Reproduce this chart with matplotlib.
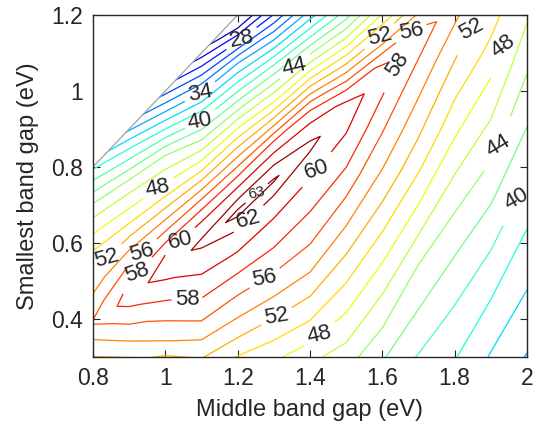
import numpy as np
import matplotlib
matplotlib.use("Agg")
import matplotlib.pyplot as plt
from matplotlib.colors import Normalize

plt.rcParams['font.family'] = ['Liberation Sans', 'DejaVu Sans']

# middle band gap columns (eV)
middle_gap = [0.8, 0.9, 1.0, 1.1, 1.2, 1.3, 1.4, 1.5, 1.6, 1.7, 1.8, 1.9, 2.0]
# smallest gap where the efficiency ridge sits, for each column (eV)
ridge_gap = [0.39, 0.455, 0.532, 0.60, 0.68, 0.765, 0.855, 0.945, 1.04,
             1.135, 1.23, 1.32, 1.41]
# sample rows: smallest gap offset from the ridge (eV)
offset = [-1.2, -0.8, -0.6, -0.45, -0.3, -0.2, -0.1, -0.04, 0.0, 0.04, 0.1,
          0.2, 0.3, 0.4, 0.5, 0.65, 0.9]

# efficiency (%), one row per offset, one value per column
efficiency = [
    [-12, -5, 0, 5, 8, 20, 24, 29, 31, 33, 34.5, 33.2, 32.8],
    [10, 18, 21, 27, 29, 36, 38.5, 41, 41, 40.5, 39.9, 39, 37.6],
    [22, 29, 32, 37.5, 40, 43.5, 45.2, 46.2, 45.4, 43.8, 43, 42.3, 40.6],
    [31, 37, 40, 45, 47, 49, 50.3, 50, 49, 47.6, 46, 45, 42.8],
    [40, 45, 48, 52.2, 53.2, 54.2, 55, 54, 52.8, 51.2, 49.1, 47.7, 44.9],
    [46, 50, 53.6, 56.2, 56.6, 57.4, 57.4, 56.6, 55.0, 53.1, 51.0, 49.7, 46.5],
    [51.5, 54.6, 57.4, 59.5, 60.1, 60.0, 59.6, 59.2, 57.0, 55.0, 53.0, 51.1, 49.2],
    [54.2, 57.3, 59.6, 61.2, 62.2, 62.0, 61.3, 60.3, 58.3, 56.2, 54.3, 52.4, 51.0],
    [56.2, 58.9, 61.0, 62.4, 63.3, 63.1, 62.4, 61.0, 59.0, 57.0, 55.0, 53.5, 52.0],
    [55.1, 58.1, 59.9, 61.0, 61.8, 62.0, 61.2, 59.5, 57.6, 55.8, 54.0, 52.5, 51.0],
    [53.3, 55.5, 55.9, 57.2, 57.7, 58.3, 57.6, 54.3, 52.6, 52.2, 51.0, 50.0, 49.0],
    [49.6, 49.8, 49.4, 49.2, 49.8, 48.5, 47.8, 45.5, 45.2, 44.0, 44.0, 44.0, 44.0],
    [44.9, 44.8, 43.9, 41.9, 41.5, 40.3, 38.8, 37.5, 37.5, 37.0, 37.0, 37.0, 37.0],
    [38.3, 37.5, 35.2, 33.6, 33.4, 31.2, 30.5, 29.5, 30.0, 29.0, 29.0, 29.0, 29.0],
    [30.5, 29, 26.5, 25, 22.4, 22.5, 22.0, 22.0, 23.0, 21.0, 21.0, 21.0, 21.0],
    [18, 16, 13.5, 12, 8, 9, 9, 11, 11, 9, 9, 9, 9],
    [-3, -5, -8, -10, -14, -12, -12, -10, -10, -12, -12, -12, -12],
]

levels = list(range(24, 63, 2)) + [63]

# where the inline labels sit, per level
label_spots = {
    28: [(1.211, 1.135)],
    34: [(1.096, 0.993)],
    40: [(1.096, 0.924), (1.971, 0.714)],
    44: [(1.358, 1.06), (1.916, 0.872)],
    48: [(0.98, 0.74), (1.427, 0.352), (1.933, 1.121)],
    52: [(0.839, 0.549), (1.308, 0.405), (1.593, 1.134), (1.847, 1.148)],
    56: [(0.935, 0.58), (1.275, 0.499), (1.68, 1.152)],
    58: [(0.922, 0.523), (1.06, 0.46), (1.64, 1.075)],
    60: [(1.04, 0.615), (1.42, 0.78)],
    62: [(1.231, 0.655)],
    63: [(1.253, 0.728)],
}

# sheared sampling grid that follows the ridge
X = np.tile(middle_gap, (len(offset), 1))
Y = np.array(ridge_gap)[None, :] + np.array(offset)[:, None]
Z = np.array(efficiency, dtype=float)

fig = plt.figure(figsize=(5.35, 4.28), dpi=100)
ax = fig.add_axes([0.1738, 0.166, 0.8112, 0.799])

cmap = plt.get_cmap('jet')
norm = Normalize(vmin=22, vmax=63.4)

for lev in levels:
  cs = ax.contour(X, Y, Z, levels=[lev], colors=[cmap(norm(lev))],
                  linewidths=0.9)
  if lev in label_spots:
    ax.clabel(cs, manual=label_spots[lev], inline=True, fmt='%d',
              fontsize=11 if lev == 63 else 16, colors='#262626',
              inline_spacing=3)

# region where the smallest gap exceeds the middle gap is blank
ax.fill([0.79, 1.2, 1.2, 0.79], [0.79, 1.2, 1.21, 1.21], color='white',
        zorder=2.2, lw=0)
ax.plot([0.8, 1.2], [0.8, 1.2], color='#a0a0a0', lw=0.9, zorder=2.3)

ax.set_xlim(0.8, 2.0)
ax.set_ylim(0.3, 1.2)
ax.set_xticks([0.8, 1.0, 1.2, 1.4, 1.6, 1.8, 2.0])
ax.set_xticklabels(['0.8', '1', '1.2', '1.4', '1.6', '1.8', '2'])
ax.set_yticks([0.4, 0.6, 0.8, 1.0, 1.2])
ax.set_yticklabels(['0.4', '0.6', '0.8', '1', '1.2'])
ax.tick_params(direction='in', length=5, width=0.8, labelsize=16.5,
               top=True, right=True, pad=7, colors='#262626')
for sp in ax.spines.values():
  sp.set_linewidth(1.0)
  sp.set_color('#262626')
  sp.set_zorder(5)

ax.set_xlabel('Middle band gap (eV)', fontsize=17, color='#262626', labelpad=7)
ax.set_ylabel('Smallest band gap (eV)', fontsize=17, color='#262626',
              labelpad=9)

fig.savefig('out.png', dpi=100)
